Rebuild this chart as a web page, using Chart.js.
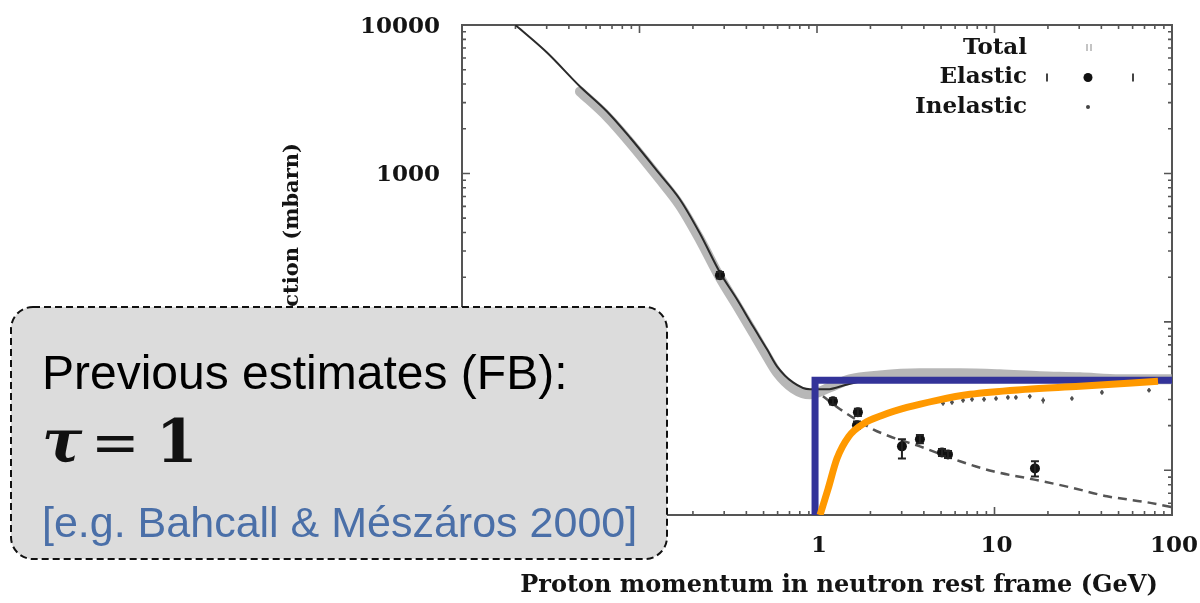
<!DOCTYPE html>
<html>
<head>
<meta charset="utf-8">
<script src="https://cdn.jsdelivr.net/npm/chart.js@4.4.1/dist/chart.umd.min.js"></script>
<style>
  html, body { margin: 0; padding: 0; background: #fff; }
  #wrap { position: relative; width: 1200px; height: 603px; overflow: hidden; }
  #c { position: absolute; left: 0; top: 0; }
  #note { position: absolute; left: 0; top: 0; pointer-events: none; }
</style>
</head>
<body>
<div id="wrap">
  <canvas id="c" width="1200" height="603"></canvas>
  <svg id="note" width="1200" height="603" xmlns="http://www.w3.org/2000/svg">
    <rect x="11" y="307" width="656" height="252" rx="22" ry="22"
          fill="#dcdcdc" stroke="#111" stroke-width="2" stroke-dasharray="7 4"/>
    <text x="42" y="389" font-family="'Liberation Sans', Arial, sans-serif" font-size="48" fill="#000">Previous estimates (FB):</text>
    <text y="462" fill="#111">
      <tspan x="42" font-family="'DejaVu Serif', serif" font-weight="bold" font-style="italic" font-size="60">τ</tspan>
      <tspan x="91" font-family="'DejaVu Serif', serif" font-size="58">=</tspan>
      <tspan x="156" font-family="'DejaVu Serif', serif" font-weight="bold" font-size="60">1</tspan>
    </text>
    <text x="42" y="537" font-family="'Liberation Sans', Arial, sans-serif" font-size="43" fill="#4a6fa8">[e.g. Bahcall &amp; Mészáros 2000]</text>
  </svg>
</div>
<script>
// Axis labels (GeV on x, mbarn on y)
const xTickLabels = [0.01, 0.1, 1, 10, 100];
const yTickLabels = [10, 100, 1000, 10000];
const xTitle = 'Proton momentum in neutron rest frame (GeV)';
const yTitle = 'Cross section (mbarn)';

// Total cross section: measured band
const totalX = [0.0462, 0.0656, 0.0884, 0.1305, 0.169, 0.219, 0.284, 0.354, 0.436, 0.523, 0.595, 0.733, 0.913, 1.18, 1.53, 2.26, 3.80, 6.39, 10.7, 18.0, 30.3, 50.9, 100];
const totalY = [3565, 2421, 1618, 911, 609, 359, 199, 129, 85, 58.6, 45.7, 35.7, 32.5, 36.2, 41.0, 43.6, 45.0, 45.0, 44.3, 43.0, 42.3, 41.0, 41.0];

// Total cross section: fit curve
const totalFitX = [0.02, 0.0301, 0.0462, 0.0656, 0.0884, 0.1305, 0.169, 0.219, 0.284, 0.354, 0.436, 0.523, 0.595, 0.733, 0.913, 1.14, 1.48, 1.99];
const totalFitY = [10000, 6530, 3855, 2615, 1746, 985, 668, 394, 215, 142, 93.3, 65.3, 50.2, 39.1, 35.1, 35.1, 37.9, 41.0];

// Elastic cross section: fit curve (dashed)
const elasticFitX = [1.08, 1.35, 2.07, 2.58, 3.80, 6.39, 9.81, 16.5, 26.6, 43.0, 72.3, 100];
const elasticFitY = [31.5, 25.8, 18.9, 16.9, 14.5, 11.5, 9.85, 8.69, 7.69, 6.69, 6.09, 5.64];

// Elastic measurements with error bars
const elasticX  = [0.284, 1.23, 1.68, 1.70, 3.01, 3.80, 5.06, 5.47, 16.9];
const elasticY  = [206, 29.2, 20.1, 24.6, 14.5, 16.2, 13.2, 12.8, 10.3];
const elasticLo = [196, 27.8, 19.0, 23.2, 12.0, 15.2, 12.5, 12.1, 9.1];
const elasticHi = [217, 30.6, 21.3, 26.0, 16.2, 17.3, 13.9, 13.5, 11.5];

// Inelastic measurements with error bars
const inelasticX  = [5.13, 5.76, 6.65, 7.47, 8.73, 10.2, 11.9, 13.2, 15.8, 18.8, 27.3, 40.3, 74.2];
const inelasticY  = [28.3, 28.7, 29.6, 30.1, 30.1, 30.5, 31.0, 31.0, 31.5, 29.6, 30.5, 33.5, 34.6];
const inelasticLo = [27.2, 27.6, 28.5, 29.0, 29.0, 29.4, 29.9, 29.9, 30.4, 28.2, 29.4, 32.3, 33.4];
const inelasticHi = [29.4, 29.8, 30.7, 31.2, 31.2, 31.6, 32.1, 32.1, 32.6, 31.0, 31.6, 34.7, 35.8];

// Step-function estimate (threshold at ~1 GeV) and the smooth estimate
const stepX = [0.975, 0.975, 100];
const stepY = [5, 40.4, 40.4];
const smoothX = [1.04, 1.153, 1.296, 1.51, 1.84, 2.32, 3.21, 4.74, 7.28, 14.9, 30.3, 83.4];
const smoothY = [5, 7.45, 12.0, 16.9, 20.7, 23.4, 26.5, 29.6, 32.5, 35.1, 36.8, 39.8];

const pts = (xs, ys) => xs.map((x, i) => ({ x, y: ys[i] }));

const SERIF = "'DejaVu Serif', serif";
const INK = '#141414';

// Error bars for datasets that carry errLo / errHi
const errorBars = {
  id: 'errorBars',
  afterDatasetDraw(chart, args) {
    const ds = chart.data.datasets[args.index];
    if (!ds.errLo) return;
    const { ctx, chartArea: a, scales: { x, y } } = chart;
    ctx.save();
    ctx.beginPath();
    ctx.rect(a.left, a.top, a.width, a.height);
    ctx.clip();
    ctx.strokeStyle = ds.errColor;
    ctx.lineWidth = ds.errWidth;
    ds.data.forEach((p, i) => {
      const px = x.getPixelForValue(p.x);
      const y0 = y.getPixelForValue(ds.errLo[i]);
      const y1 = y.getPixelForValue(ds.errHi[i]);
      ctx.beginPath();
      ctx.moveTo(px, y0); ctx.lineTo(px, y1);
      if (ds.errCap) {
        ctx.moveTo(px - ds.errCap, y0); ctx.lineTo(px + ds.errCap, y0);
        ctx.moveTo(px - ds.errCap, y1); ctx.lineTo(px + ds.errCap, y1);
      }
      ctx.stroke();
    });
    ctx.restore();
  }
};

// Box frame with inward log ticks on all four sides
const logSteps = (min, max) => {
  const out = [];
  for (let e = Math.floor(Math.log10(min)); e <= Math.ceil(Math.log10(max)); e++) {
    for (let m = 1; m <= 9; m++) {
      const v = m * Math.pow(10, e);
      if (v >= min * 0.9999 && v <= max * 1.0001) out.push({ v, major: m === 1 });
    }
  }
  return out;
};
const frameTicks = {
  id: 'frameTicks',
  beforeDatasetsDraw(chart) {
    const { ctx, chartArea: a, scales: { x, y } } = chart;
    ctx.save();
    ctx.strokeStyle = '#555';
    ctx.lineWidth = 2;
    ctx.strokeRect(a.left, a.top, a.width, a.height);
    ctx.lineWidth = 1.6;
    ctx.beginPath();
    logSteps(x.min, x.max).forEach(t => {
      const px = x.getPixelForValue(t.v);
      const len = t.major ? 8 : 4;
      ctx.moveTo(px, a.bottom); ctx.lineTo(px, a.bottom - len);
      ctx.moveTo(px, a.top); ctx.lineTo(px, a.top + len);
    });
    logSteps(y.min, y.max).forEach(t => {
      const py = y.getPixelForValue(t.v);
      const len = t.major ? 8 : 4;
      ctx.moveTo(a.left, py); ctx.lineTo(a.left + len, py);
      ctx.moveTo(a.right, py); ctx.lineTo(a.right - len, py);
    });
    ctx.stroke();
    ctx.restore();
  }
};

// Axis titles and the key in the upper right
const annotations = {
  id: 'annotations',
  afterDraw(chart) {
    const { ctx } = chart;
    ctx.save();
    ctx.fillStyle = INK;
    ctx.font = `bold 24px ${SERIF}`;
    ctx.textAlign = 'center';
    ctx.textBaseline = 'middle';
    ctx.fillText(xTitle, 839, 586);

    ctx.save();
    ctx.font = `bold 21px ${SERIF}`;
    ctx.translate(293, 143);
    ctx.rotate(-Math.PI / 2);
    ctx.textAlign = 'right';
    ctx.fillText(yTitle, 0, 0);
    ctx.restore();

    // key
    const keyItems = chart.data.datasets.filter(d => d.keyRow !== undefined)
      .sort((p, q) => p.keyRow - q.keyRow);
    ctx.font = `bold 23px ${SERIF}`;
    ctx.textAlign = 'right';
    keyItems.forEach((d, i) => {
      const ty = 48 + i * 29.5;
      ctx.fillStyle = INK;
      ctx.fillText(d.label, 1027, ty);
      if (d.label === 'Total') {
        ctx.fillStyle = '#c4c4c4';
        ctx.fillRect(1086, ty - 4, 2, 7);
        ctx.fillRect(1090, ty - 4, 2, 7);
      } else if (d.label === 'Elastic') {
        ctx.fillStyle = '#111';
        ctx.beginPath(); ctx.arc(1088, ty, 4.5, 0, Math.PI * 2); ctx.fill();
        ctx.fillStyle = '#444';
        ctx.fillRect(1046, ty - 4, 2, 8);
        ctx.fillRect(1132, ty - 4, 2, 8);
      } else {
        ctx.fillStyle = '#444';
        ctx.beginPath(); ctx.arc(1088, ty, 2, 0, Math.PI * 2); ctx.fill();
      }
    });
    ctx.restore();
  }
};

const noOverflow = s => {
  s.paddingLeft = 0; s.paddingRight = 0; s.paddingTop = 0; s.paddingBottom = 0;
};

new Chart(document.getElementById('c'), {
  type: 'line',
  data: {
    datasets: [
      {
        label: 'Smooth estimate', data: pts(smoothX, smoothY),
        borderColor: '#ff9900', borderWidth: 7, pointRadius: 0,
        cubicInterpolationMode: 'monotone', borderCapStyle: 'butt', order: 1
      },
      {
        label: 'Step estimate', data: pts(stepX, stepY),
        borderColor: '#333399', borderWidth: 7, pointRadius: 0, tension: 0,
        borderJoinStyle: 'miter', borderCapStyle: 'butt', order: 2
      },
      {
        label: 'Inelastic', keyRow: 2, data: pts(inelasticX, inelasticY), showLine: false,
        pointRadius: 1.8, pointBackgroundColor: '#444', pointBorderWidth: 0,
        errLo: inelasticLo, errHi: inelasticHi, errColor: '#555', errWidth: 1.5, errCap: 0, order: 3
      },
      {
        label: 'Elastic', keyRow: 1, data: pts(elasticX, elasticY), showLine: false,
        pointRadius: 5, pointBackgroundColor: '#111', pointBorderColor: '#111', pointBorderWidth: 0,
        errLo: elasticLo, errHi: elasticHi, errColor: '#222', errWidth: 2, errCap: 4, order: 4
      },
      {
        label: 'Elastic fit', data: pts(elasticFitX, elasticFitY),
        borderColor: '#555', borderWidth: 2.5, borderDash: [9, 6], pointRadius: 0,
        cubicInterpolationMode: 'monotone', order: 5
      },
      {
        label: 'Total fit', data: pts(totalFitX, totalFitY),
        borderColor: '#2a2a2a', borderWidth: 2, pointRadius: 0,
        cubicInterpolationMode: 'monotone', order: 6
      },
      {
        label: 'Total', keyRow: 0, data: pts(totalX, totalY),
        borderColor: 'rgba(165,165,165,0.8)', borderWidth: 10, pointRadius: 0,
        borderCapStyle: 'round', borderJoinStyle: 'round',
        cubicInterpolationMode: 'monotone', order: 7
      }
    ]
  },
  options: {
    responsive: false,
    animation: false,
    events: [],
    layout: { padding: { left: 0, right: 28, top: 25, bottom: 0 } },
    plugins: { legend: { display: false }, tooltip: { enabled: false } },
    scales: {
      x: {
        type: 'logarithmic', min: 0.01, max: 100,
        afterFit(s) { s.height = 88; noOverflow(s); },
        afterBuildTicks(s) { s.ticks = xTickLabels.map(v => ({ value: v })); },
        grid: { display: false, drawTicks: false },
        border: { display: false },
        ticks: {
          autoSkip: false, maxRotation: 0, padding: 17, labelOffset: 2, color: INK,
          font: { family: SERIF, size: 23, weight: 'bold' },
          callback: v => String(v)
        }
      },
      y: {
        type: 'logarithmic', min: 5, max: 10000,
        afterFit(s) { s.width = 462; noOverflow(s); },
        afterBuildTicks(s) { s.ticks = yTickLabels.map(v => ({ value: v })); },
        grid: { display: false, drawTicks: false },
        border: { display: false },
        ticks: {
          autoSkip: false, padding: 22, labelOffset: 2, color: INK,
          font: { family: SERIF, size: 23, weight: 'bold' },
          callback: v => String(v)
        }
      }
    }
  },
  plugins: [frameTicks, errorBars, annotations]
});
</script>
</body>
</html>
